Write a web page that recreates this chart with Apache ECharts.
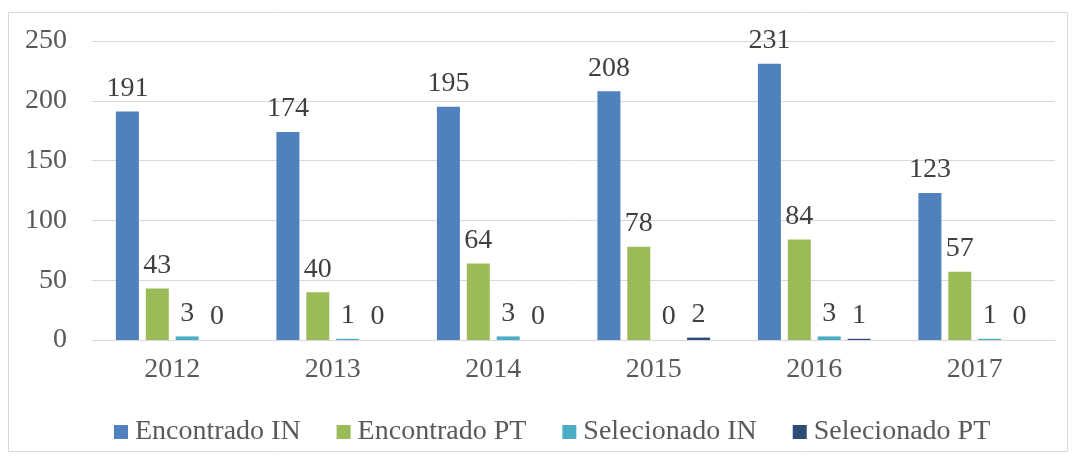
<!DOCTYPE html>
<html>
<head>
<meta charset="utf-8">
<script src="https://cdn.jsdelivr.net/npm/echarts@6/dist/echarts.min.js"></script>
<style>
  body { margin: 0; background: #fff; }
  #main { width: 1076px; height: 459px; }
</style>
</head>
<body>
<div id="main"></div>
<script>
// data
var years = ['2012', '2013', '2014', '2015', '2016', '2017'];
var encontradoIN = [191, 174, 195, 208, 231, 123];
var encontradoPT = [43, 40, 64, 78, 84, 57];
var selecionadoIN = [3, 1, 3, 0, 3, 1];
var selecionadoPT = [0, 0, 0, 2, 1, 0];
var seriesNames = ['Encontrado IN', 'Encontrado PT', 'Selecionado IN', 'Selecionado PT'];
var colors = ['#4F81BD', '#9BBB59', '#4BACC6', '#2C4D75'];

function drawChart(){
    var myChart = echarts.init(document.getElementById('main'));
    var font = '"Liberation Serif", "Times New Roman", serif';
    var allData = [encontradoIN, encontradoPT, selecionadoIN, selecionadoPT];

    var series = allData.map(function(d, i){
        return {
            name: seriesNames[i],
            type: 'bar',
            data: d,
            barWidth: 23,
            barGap: '30%',
            itemStyle: { color: colors[i] },
            label: {
                show: true,
                position: 'top',
                distance: 9,
                fontFamily: font,
                fontSize: 28,
                color: '#404040'
            }
        };
    });

    var option = {
        color: colors,
        animation: false,
        graphic: [{
            type: 'rect',
            shape: { x: 8.5, y: 12.5, width: 1059, height: 439 },
            style: { fill: 'none', stroke: '#d9d9d9', lineWidth: 1 },
            silent: true
        }],
        grid: { left: 92, right: 21, top: 41, bottom: 119 },
        legend: {
            data: seriesNames,
            left: 109,
            top: 413,
            icon: 'rect',
            itemWidth: 14,
            itemHeight: 14,
            itemGap: 36,
            textStyle: { fontFamily: font, fontSize: 28, color: '#595959', padding: [0, 0, 0, 2] }
        },
        xAxis: {
            type: 'category',
            data: years,
            axisLine: { lineStyle: { color: '#d9d9d9' } },
            axisTick: { show: false },
            axisLabel: { fontFamily: font, fontSize: 28, color: '#595959', margin: 16 }
        },
        yAxis: {
            type: 'value',
            min: 0,
            max: 250,
            interval: 50,
            axisLine: { show: false },
            axisTick: { show: false },
            splitLine: { lineStyle: { color: '#d9d9d9' } },
            axisLabel: { fontFamily: font, fontSize: 28, color: '#595959', margin: 25 }
        },
        series: series
    };

    myChart.setOption(option);
}

drawChart();
</script>
</body>
</html>
